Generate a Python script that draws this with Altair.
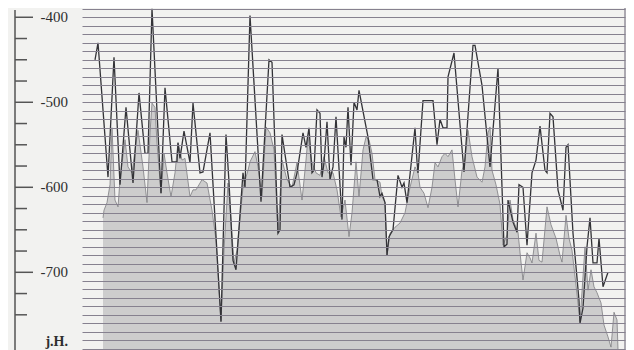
import altair as alt
import pandas as pd

# Upper (solid) series: position along the unlabeled time axis, value
line_x = [95, 98, 108, 114, 120, 126, 133, 139, 145, 148,
          152, 161, 165, 172, 177, 178, 180, 184, 190, 193,
          200, 203, 210, 221, 226, 229, 233, 236, 243, 245,
          250, 261, 269, 272, 278, 280, 282, 290, 294, 297,
          303, 306, 309, 312, 314, 317, 320, 322, 324, 327,
          330, 333, 336, 342, 344, 346, 348, 351, 354, 357,
          359, 368, 373, 377, 380, 382, 385, 387, 389, 393,
          398, 402, 404, 407, 415, 417, 418, 423, 433, 437,
          440, 443, 447, 448, 454, 464, 473, 475, 482, 490,
          498, 504, 507, 508, 513, 517, 519, 523, 527, 532,
          536, 540, 545, 547, 550, 553, 558, 563, 566, 568,
          573, 579, 580, 583, 587, 590, 593, 597, 599, 603,
          608]
line_v = [-450, -430, -588, -447, -597, -506, -595, -489, -560, -560,
          -390, -607, -483, -570, -570, -548, -566, -534, -571, -501,
          -583, -582, -536, -758, -538, -594, -686, -697, -583, -600,
          -398, -617, -450, -453, -654, -650, -538, -600, -597, -583,
          -536, -553, -530, -583, -580, -509, -513, -588, -571, -523,
          -591, -576, -517, -638, -541, -553, -506, -574, -500, -509,
          -486, -541, -591, -591, -611, -607, -618, -680, -658, -650,
          -586, -600, -595, -618, -530, -570, -583, -498, -498, -550,
          -520, -530, -530, -470, -442, -582, -433, -433, -480, -576,
          -460, -670, -667, -615, -641, -653, -597, -600, -668, -583,
          -568, -528, -580, -583, -513, -517, -603, -627, -553, -550,
          -654, -733, -760, -742, -670, -636, -689, -689, -660, -717,
          -700]

# Lower (shaded) series
area_x = [103, 104, 107, 110, 112, 115, 118, 120, 125, 128,
          132, 135, 138, 143, 147, 150, 152, 155, 157, 161,
          164, 167, 171, 175, 178, 182, 185, 190, 193, 196,
          202, 207, 212, 216, 221, 224, 228, 231, 234, 237,
          243, 248, 250, 255, 258, 262, 266, 270, 274, 278,
          282, 287, 292, 297, 302, 306, 308, 312, 316, 320,
          324, 328, 333, 337, 341, 345, 349, 352, 356, 359,
          363, 366, 369, 372, 375, 380, 382, 385, 387, 390,
          395, 400, 405, 410, 415, 418, 420, 424, 428, 432,
          435, 438, 442, 445, 448, 452, 455, 458, 462, 465,
          468, 472, 477, 482, 485, 488, 490, 492, 496, 500,
          503, 507, 510, 513, 518, 521, 523, 527, 530, 532,
          536, 539, 542, 547, 551, 556, 560, 562, 566, 569,
          572, 576, 580, 585, 588, 591, 594, 597, 601, 604,
          608, 611, 614, 617, 618]
area_v = [-636, -627, -618, -597, -530, -615, -623, -591, -544, -576,
          -583, -556, -533, -576, -618, -536, -501, -506, -548, -607,
          -560, -583, -611, -583, -547, -568, -566, -611, -603, -603,
          -591, -595, -627, -662, -758, -674, -595, -638, -689, -674,
          -600, -580, -570, -558, -576, -611, -529, -536, -556, -654,
          -568, -591, -600, -571, -615, -568, -541, -571, -583, -586,
          -564, -583, -583, -603, -635, -615, -658, -630, -570, -611,
          -556, -541, -544, -560, -591, -594, -611, -618, -680, -654,
          -647, -642, -630, -600, -576, -583, -600, -607, -624, -600,
          -571, -576, -564, -560, -564, -556, -591, -623, -580, -568,
          -533, -564, -588, -594, -576, -536, -529, -580, -597, -620,
          -668, -656, -615, -638, -653, -688, -709, -677, -683, -689,
          -654, -686, -688, -623, -644, -660, -680, -688, -633, -660,
          -674, -715, -758, -670, -721, -697, -717, -724, -736, -762,
          -776, -788, -747, -756, -791]

grid_values = list(range(-790, -389, 10))
major_ticks = [-400, -500, -600, -700]
major_labels = ["-400", "-500", "-600", "-700"]
minor_ticks = [-425, -450, -475, -525, -550, -575, -625, -650, -675, -725, -750]
unit_label = ["j.H."]

W, H = 543, 342
X_DOM = [82, 625]
Y_DOM = [-791.4, -389.1]

GRID = "#86818f"
INK = "#333337"

xs = alt.Scale(domain=X_DOM, nice=False, zero=False)
ys = alt.Scale(domain=Y_DOM, nice=False, zero=False)
y_axis = alt.Axis(values=grid_values, grid=True, gridColor=GRID, gridWidth=1.2,
                  domain=False, ticks=False, labels=False, title=None, zindex=1)

line_df = pd.DataFrame({"pos": line_x, "val": line_v})
area_df = pd.DataFrame({"pos": area_x, "val": area_v, "base": [Y_DOM[0]] * len(area_x)})
major_df = pd.DataFrame({"t": major_ticks, "label": major_labels})
minor_df = pd.DataFrame({"t": minor_ticks})
unit_df = pd.DataFrame({"u": unit_label})
one_df = pd.DataFrame({"a": [0]})

X = alt.X("pos:Q", scale=xs, axis=None)
Y = alt.Y("val:Q", scale=ys, axis=y_axis)

area = alt.Chart(area_df).mark_area(color="#cdcdcd", opacity=1, clip=True).encode(
    x=X, y=Y, y2=alt.Y2("base:Q")
)
area_edge = alt.Chart(area_df).mark_line(color="#7c7c80", strokeWidth=0.8, clip=True).encode(
    x=X, y=Y
)
main_line = alt.Chart(line_df).mark_line(color=INK, strokeWidth=1.3, clip=True).encode(
    x=X, y=Y
)
right_border = alt.Chart(one_df).mark_rule(color=GRID, strokeWidth=1.3).encode(
    x=alt.value(W), y=alt.value(0), y2=alt.value(H)
)
axis_line = alt.Chart(one_df).mark_rule(color="#555", strokeWidth=1.5).encode(
    x=alt.value(-67), y=alt.value(2), y2=alt.value(H)
)
ticks_major = alt.Chart(major_df).mark_rule(color="#555", strokeWidth=1.5).encode(
    y=alt.Y("t:Q", scale=ys, axis=y_axis), x=alt.value(-67), x2=alt.value(-49)
)
ticks_minor = alt.Chart(minor_df).mark_rule(color="#555", strokeWidth=1.5).encode(
    y=alt.Y("t:Q", scale=ys, axis=y_axis), x=alt.value(-67), x2=alt.value(-55)
)
labels = alt.Chart(major_df).mark_text(
    align="right", baseline="middle", font="Liberation Serif", fontSize=15, color="#2e2e2e"
).encode(
    y=alt.Y("t:Q", scale=ys, axis=y_axis), x=alt.value(-14), text="label:N"
)
unit = alt.Chart(unit_df).mark_text(
    align="right", baseline="middle", font="Liberation Serif", fontSize=14,
    fontWeight="bold", color="#2e2e2e"
).encode(
    x=alt.value(-14), y=alt.value(334), text="u:N"
)

chart = alt.layer(
    area, area_edge, main_line, right_border, axis_line, ticks_major, ticks_minor, labels, unit
).properties(
    width=W, height=H,
    padding={"left": 74, "top": 0, "right": 1, "bottom": 0},
    autosize=alt.AutoSizeParams(type="none"),
    background="#f2f2f0",
).configure_view(stroke=None)

chart.save("out.html", embed_options={"renderer": "svg", "actions": False})
